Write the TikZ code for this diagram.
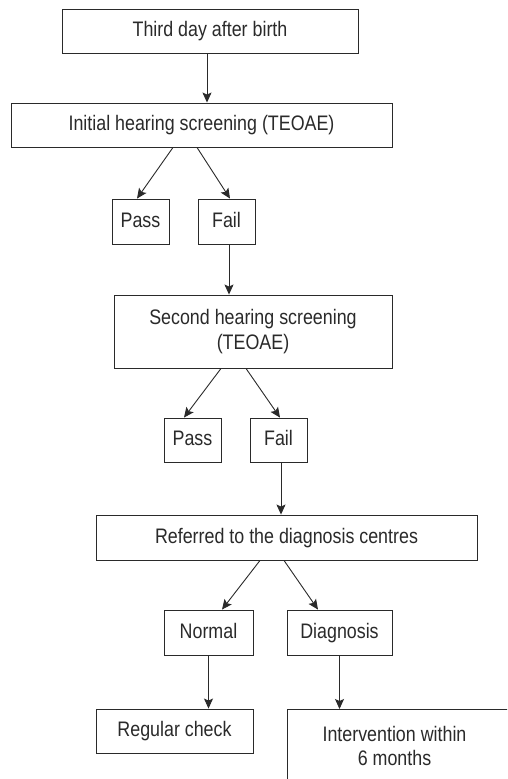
\documentclass[tikz,border=0pt]{standalone}
\usepackage{fontspec}
\setmainfont{Liberation Sans}[FakeStretch=0.85]
\usetikzlibrary{arrows.meta}
\definecolor{ink}{HTML}{2A2A2A}
\begin{document}
\begin{tikzpicture}[x=1pt,y=-1pt,
  box/.style={draw=ink, line width=0.9pt, rectangle, inner sep=0pt, text=ink,
    font=\fontsize{21}{25}\selectfont, align=center},
  one/.style={text height=15pt, text depth=4pt},
  arr/.style={draw=ink, line width=0.9pt, -{Stealth[length=10pt,width=9pt,inset=2pt]}}]
\useasboundingbox (0,0) rectangle (507,779);
\clip (0,0) rectangle (507,779);
\fill[white] (0,0) rectangle (507,779);
\node[box, one, minimum width=296, minimum height=44] (b1) at (210,31) {Third day after birth};
\node[box, one, minimum width=381, minimum height=44] (b2) at (201.5,125) {Initial hearing screening (TEOAE)};
\node[box, one, minimum width=57, minimum height=45] (p1) at (140.5,221.5) {Pass};
\node[box, one, minimum width=57, minimum height=45] (f1) at (226.5,221.5) {Fail};
\node[box, minimum width=278, minimum height=73] (b3) at (253,331.5) {Second hearing screening\\(TEOAE)};
\node[box, one, minimum width=57, minimum height=44] (p2) at (192.5,440) {Pass};
\node[box, one, minimum width=57, minimum height=44] (f2) at (278.5,440) {Fail};
\node[box, one, minimum width=381, minimum height=45] (b4) at (286.5,537.5) {Referred to the diagnosis centres};
\node[box, one, minimum width=89, minimum height=45] (n) at (208.5,632.5) {Normal};
\node[box, one, minimum width=105, minimum height=45] (d) at (339.5,632.5) {Diagnosis};
\node[box, one, minimum width=157, minimum height=44] (rc) at (174.5,731) {Regular check};
\node[box, anchor=north west, minimum width=280, minimum height=110] (ivbox) at (287,709) {};
\node[box, draw=none, font=\fontsize{21}{24}\selectfont] (iv) at (394.5,746) {Intervention within\\6 months};
\draw[arr] ([xshift=-3]b1.south) -- ([xshift=-3]b1.south |- b2.north);
\draw[arr] ([xshift=-28.5]b2.south) -- ([xshift=-3.5]p1.north);
\draw[arr] ([xshift=-4.5]b2.south) -- ([xshift=3.5]f1.north);
\draw[arr] ([xshift=2.5]f1.south) -- ([xshift=2.5]f1.south |- b3.north);
\draw[arr] ([xshift=-32]b3.south) -- ([xshift=-8.5]p2.north);
\draw[arr] ([xshift=-7]b3.south) -- ([xshift=1.5]f2.north);
\draw[arr] ([xshift=2.5]f2.south) -- ([xshift=2.5]f2.south |- b4.north);
\draw[arr] ([xshift=-26.5]b4.south) -- ([xshift=13.5]n.north);
\draw[arr] ([xshift=-2.5]b4.south) -- ([xshift=-21.5]d.north);
\draw[arr] (n.south) -- (n.south |- rc.north);
\draw[arr] (d.south) -- (d.south |- ivbox.north);
\end{tikzpicture}
\end{document}
